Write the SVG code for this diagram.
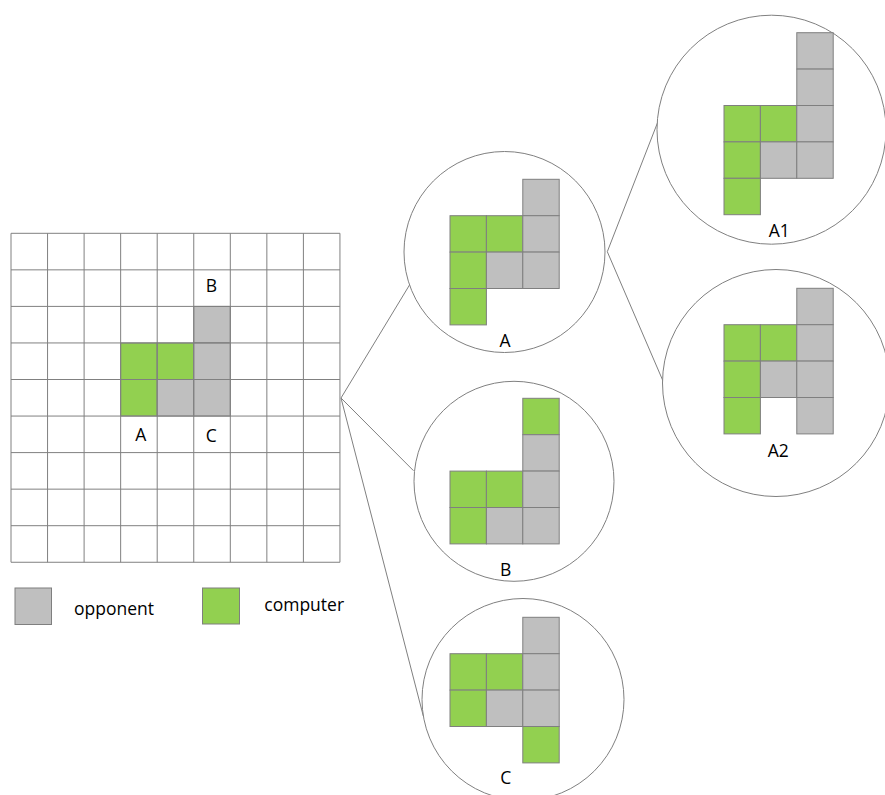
<svg xmlns="http://www.w3.org/2000/svg" width="885" height="795" viewBox="0 0 885 795">
<style>
.g{fill:#92D050;stroke:#7F7F7F;stroke-width:1}
.o{fill:#BFBFBF;stroke:#7F7F7F;stroke-width:1}
.grid{fill:none;stroke:#808080;stroke-width:1}
.circ{fill:#FFFFFF;stroke:#808080;stroke-width:1}
.con{fill:none;stroke:#808080;stroke-width:1}
.t{font-family:"Open Sans","Liberation Sans",sans-serif;font-size:17.5px;fill:#000000}
.m{text-anchor:middle}
</style>
<rect width="885" height="795" fill="#FFFFFF"/>
<g id="connectors">
<line class="con" x1="341" y1="398" x2="409.5" y2="285"/>
<line class="con" x1="341" y1="398" x2="413.5" y2="470.7"/>
<line class="con" x1="341" y1="398" x2="423.3" y2="716"/>
<line class="con" x1="607.3" y1="251.7" x2="658.3" y2="120.7"/>
<line class="con" x1="607.3" y1="251.7" x2="663.3" y2="381.7"/>
</g>
<g id="board">
<rect class="g" x="120.65" y="342.95" width="36.55" height="36.55"/>
<rect class="g" x="157.2" y="342.95" width="36.55" height="36.55"/>
<rect class="g" x="120.65" y="379.5" width="36.55" height="36.55"/>
<rect class="o" x="193.75" y="306.4" width="36.55" height="36.55"/>
<rect class="o" x="193.75" y="342.95" width="36.55" height="36.55"/>
<rect class="o" x="157.2" y="379.5" width="36.55" height="36.55"/>
<rect class="o" x="193.75" y="379.5" width="36.55" height="36.55"/>
<path class="grid" d="M11 233.3H339.95V562.25H11Z M47.55 233.3V562.25 M84.1 233.3V562.25 M120.65 233.3V562.25 M157.2 233.3V562.25 M193.75 233.3V562.25 M230.3 233.3V562.25 M266.85 233.3V562.25 M303.4 233.3V562.25 M11 269.85H339.95 M11 306.4H339.95 M11 342.95H339.95 M11 379.5H339.95 M11 416.05H339.95 M11 452.6H339.95 M11 489.15H339.95 M11 525.7H339.95"/>
<text class="t m" x="211.3" y="291.7">B</text>
<text class="t m" x="140.8" y="441">A</text>
<text class="t m" x="211.3" y="442">C</text>
</g>
<g id="legend">
<rect class="o" x="15" y="588" width="36.5" height="36.5"/>
<text class="t" x="74" y="615">opponent</text>
<rect class="g" x="202.5" y="588" width="37" height="36"/>
<text class="t" x="264.3" y="611">computer</text>
</g>
<g id="node-A">
<circle class="circ" cx="504.5" cy="252" r="100.5"/>
<rect class="o" x="522.8" y="179.3" width="36.4" height="36.4"/>
<rect class="g" x="450" y="215.7" width="36.4" height="36.4"/>
<rect class="g" x="486.4" y="215.7" width="36.4" height="36.4"/>
<rect class="o" x="522.8" y="215.7" width="36.4" height="36.4"/>
<rect class="g" x="450" y="252.1" width="36.4" height="36.4"/>
<rect class="o" x="486.4" y="252.1" width="36.4" height="36.4"/>
<rect class="o" x="522.8" y="252.1" width="36.4" height="36.4"/>
<rect class="g" x="450" y="288.5" width="36.4" height="36.4"/>
<text class="t m" x="505" y="346.7">A</text>
</g>
<g id="node-A1">
<circle class="circ" cx="771.5" cy="129.7" r="114.5"/>
<rect class="o" x="796.8" y="32.7" width="36.4" height="36.4"/>
<rect class="o" x="796.8" y="69.1" width="36.4" height="36.4"/>
<rect class="g" x="724" y="105.5" width="36.4" height="36.4"/>
<rect class="g" x="760.4" y="105.5" width="36.4" height="36.4"/>
<rect class="o" x="796.8" y="105.5" width="36.4" height="36.4"/>
<rect class="g" x="724" y="141.9" width="36.4" height="36.4"/>
<rect class="o" x="760.4" y="141.9" width="36.4" height="36.4"/>
<rect class="o" x="796.8" y="141.9" width="36.4" height="36.4"/>
<rect class="g" x="724" y="178.3" width="36.4" height="36.4"/>
<text class="t m" x="779.3" y="237.3">A1</text>
</g>
<g id="node-A2">
<circle class="circ" cx="776" cy="383" r="113.5"/>
<rect class="o" x="796.8" y="288.3" width="36.4" height="36.4"/>
<rect class="g" x="724" y="324.7" width="36.4" height="36.4"/>
<rect class="g" x="760.4" y="324.7" width="36.4" height="36.4"/>
<rect class="o" x="796.8" y="324.7" width="36.4" height="36.4"/>
<rect class="g" x="724" y="361.1" width="36.4" height="36.4"/>
<rect class="o" x="760.4" y="361.1" width="36.4" height="36.4"/>
<rect class="o" x="796.8" y="361.1" width="36.4" height="36.4"/>
<rect class="g" x="724" y="397.5" width="36.4" height="36.4"/>
<rect class="o" x="796.8" y="397.5" width="36.4" height="36.4"/>
<text class="t m" x="778.3" y="456.7">A2</text>
</g>
<g id="node-B">
<circle class="circ" cx="514" cy="481.3" r="100"/>
<rect class="g" x="522.8" y="398.3" width="36.4" height="36.4"/>
<rect class="o" x="522.8" y="434.7" width="36.4" height="36.4"/>
<rect class="g" x="450" y="471.1" width="36.4" height="36.4"/>
<rect class="g" x="486.4" y="471.1" width="36.4" height="36.4"/>
<rect class="o" x="522.8" y="471.1" width="36.4" height="36.4"/>
<rect class="g" x="450" y="507.5" width="36.4" height="36.4"/>
<rect class="o" x="486.4" y="507.5" width="36.4" height="36.4"/>
<rect class="o" x="522.8" y="507.5" width="36.4" height="36.4"/>
<text class="t m" x="505.7" y="575.7">B</text>
</g>
<g id="node-C">
<circle class="circ" cx="523" cy="699.5" r="101"/>
<rect class="o" x="522.8" y="617.3" width="36.4" height="36.4"/>
<rect class="g" x="450" y="653.7" width="36.4" height="36.4"/>
<rect class="g" x="486.4" y="653.7" width="36.4" height="36.4"/>
<rect class="o" x="522.8" y="653.7" width="36.4" height="36.4"/>
<rect class="g" x="450" y="690.1" width="36.4" height="36.4"/>
<rect class="o" x="486.4" y="690.1" width="36.4" height="36.4"/>
<rect class="o" x="522.8" y="690.1" width="36.4" height="36.4"/>
<rect class="g" x="522.8" y="726.5" width="36.4" height="36.4"/>
<text class="t m" x="505.7" y="784.3">C</text>
</g>
</svg>
